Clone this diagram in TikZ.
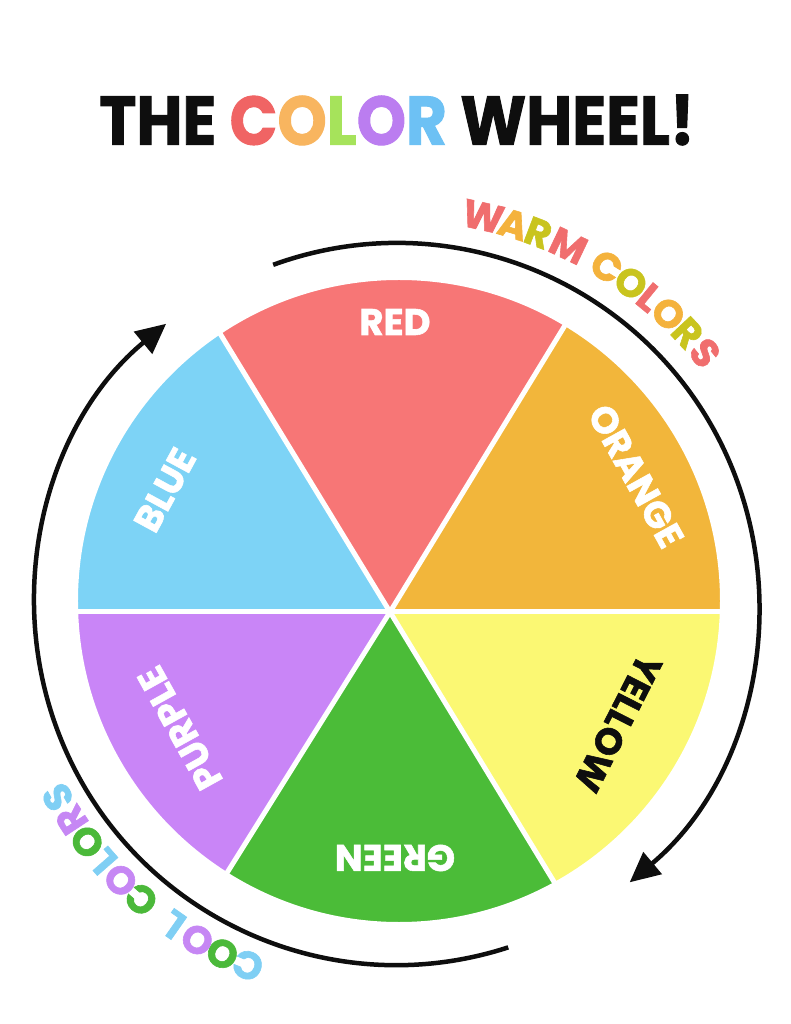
\documentclass[tikz,border=0pt]{standalone}
\usepackage{fontspec}
\usepackage{graphicx}
\setmainfont{Poppins}
\newfontfamily\heavy{Poppins}[BoldFeatures={FakeBold=1.5}]
\usetikzlibrary{arrows.meta}
\definecolor{wred}{HTML}{F77676}
\definecolor{worange}{HTML}{F2B63B}
\definecolor{wyellow}{HTML}{FBF873}
\definecolor{wgreen}{HTML}{4BBC38}
\definecolor{wpurple}{HTML}{C985F7}
\definecolor{wblue}{HTML}{7DD3F6}
\definecolor{tc1}{HTML}{F06464}
\definecolor{tc2}{HTML}{F8B55F}
\definecolor{tc3}{HTML}{A6E35B}
\definecolor{tc4}{HTML}{BB7DF0}
\definecolor{tc5}{HTML}{6DC1F4}
\definecolor{wpk}{HTML}{F06E6E}
\definecolor{wor}{HTML}{F4B23C}
\definecolor{wol}{HTML}{C9C41E}
\definecolor{cbl}{HTML}{7FCFF4}
\definecolor{cgr}{HTML}{4BB93A}
\definecolor{cpu}{HTML}{C687F4}
\definecolor{ink}{HTML}{0E0E0E}
\begin{document}
\begin{tikzpicture}[x=1pt,y=1pt,
  lbl/.style={font=\fontsize{37}{40}\selectfont\heavy\bfseries, text=white, inner sep=0pt},
  arcl/.style={font=\fontsize{39}{42}\selectfont\heavy\bfseries, inner sep=0pt},
  arrowline/.style={ink, line width=4.5pt, -{Triangle[length=30pt,width=28pt]}},
  sep/.style={white, line width=5pt}]
\useasboundingbox[fill=white] (-390,-412) rectangle (401,612);
% wheel
\begin{scope}
\clip (9,11) circle[radius=322];
\fill[wred] (0,0) -- (58.6:600) -- (90:600) -- (121.4:600) -- cycle;
\fill[worange] (0,0) -- (0:600) -- (30:600) -- (58.6:600) -- cycle;
\fill[wyellow] (0,0) -- (0:600) -- (-30:600) -- (-58.7:600) -- cycle;
\fill[wgreen] (0,0) -- (-58.7:600) -- (-90:600) -- (-122:600) -- cycle;
\fill[wpurple] (0,0) -- (-122:600) -- (-150:600) -- (180:600) -- cycle;
\fill[wblue] (0,0) -- (180:600) -- (150:600) -- (121.4:600) -- cycle;
\foreach \a in {0,58.6,121.4,180,238,301.3} \draw[sep] (0,0) -- (\a:600);
\end{scope}
\draw[white, line width=2pt] (9,11) circle[radius=322];
% arrows
\draw[arrowline] (7,7) ++(110:362) arc[start angle=110, end angle=-50, radius=362];
\draw[arrowline] (7,7) ++(-72:360) arc[start angle=-72, end angle=-230.5, radius=362];
% labels
\node[lbl] (red) at (5,290) {RED};
\node[lbl, rotate=-61] (orange) at (246,136) {ORANGE};
\node[lbl, rotate=-117, text=ink] (yellow) at (228,-111) {YELLOW};
\node[lbl, rotate=180] (green) at (5,-246) {GREEN};
\node[lbl, rotate=119] (purple) at (-210,-116) {PURPLE};
\node[lbl, rotate=61.5] (blue) at (-225,122) {BLUE};
% title
\node[inner sep=0pt, text=ink] (title) at (7,492) {\resizebox{595pt}{50pt}{\heavy\bfseries THE \textcolor{tc1}{C}\textcolor{tc2}{O}\textcolor{tc3}{L}\textcolor{tc4}{O}\textcolor{tc5}{R} WHEEL!}};
% warm colors
\foreach \ch/\ang/\col [count=\i] in {W/77.5/wpk, A/73.0/wor, R/69.2/wol, M/64.5/wpk, C/58.2/wor, O/54.0/wol, L/50.6/wpk, O/47.0/wor, R/43.1/wol, S/39.3/wpk}
  \path (7,7) ++(\ang:398) node[arcl, text=\col, rotate=\ang-90] (warm\i) {\ch};
% cool colors
\foreach \ch/\ang/\col [count=\i] in {C/-112.5/cbl, O/-116.6/cgr, O/-120.8/cpu, L/-125.0/cbl, C/-131.0/cgr, O/-135.1/cpu, L/-138.9/cbl, O/-142.6/cgr, R/-146.6/cpu, S/-150.5/cbl}
  \path (7,7) ++(\ang:390) node[arcl, text=\col, rotate=\ang-90] (cool\i) {\ch};
\end{tikzpicture}
\end{document}
